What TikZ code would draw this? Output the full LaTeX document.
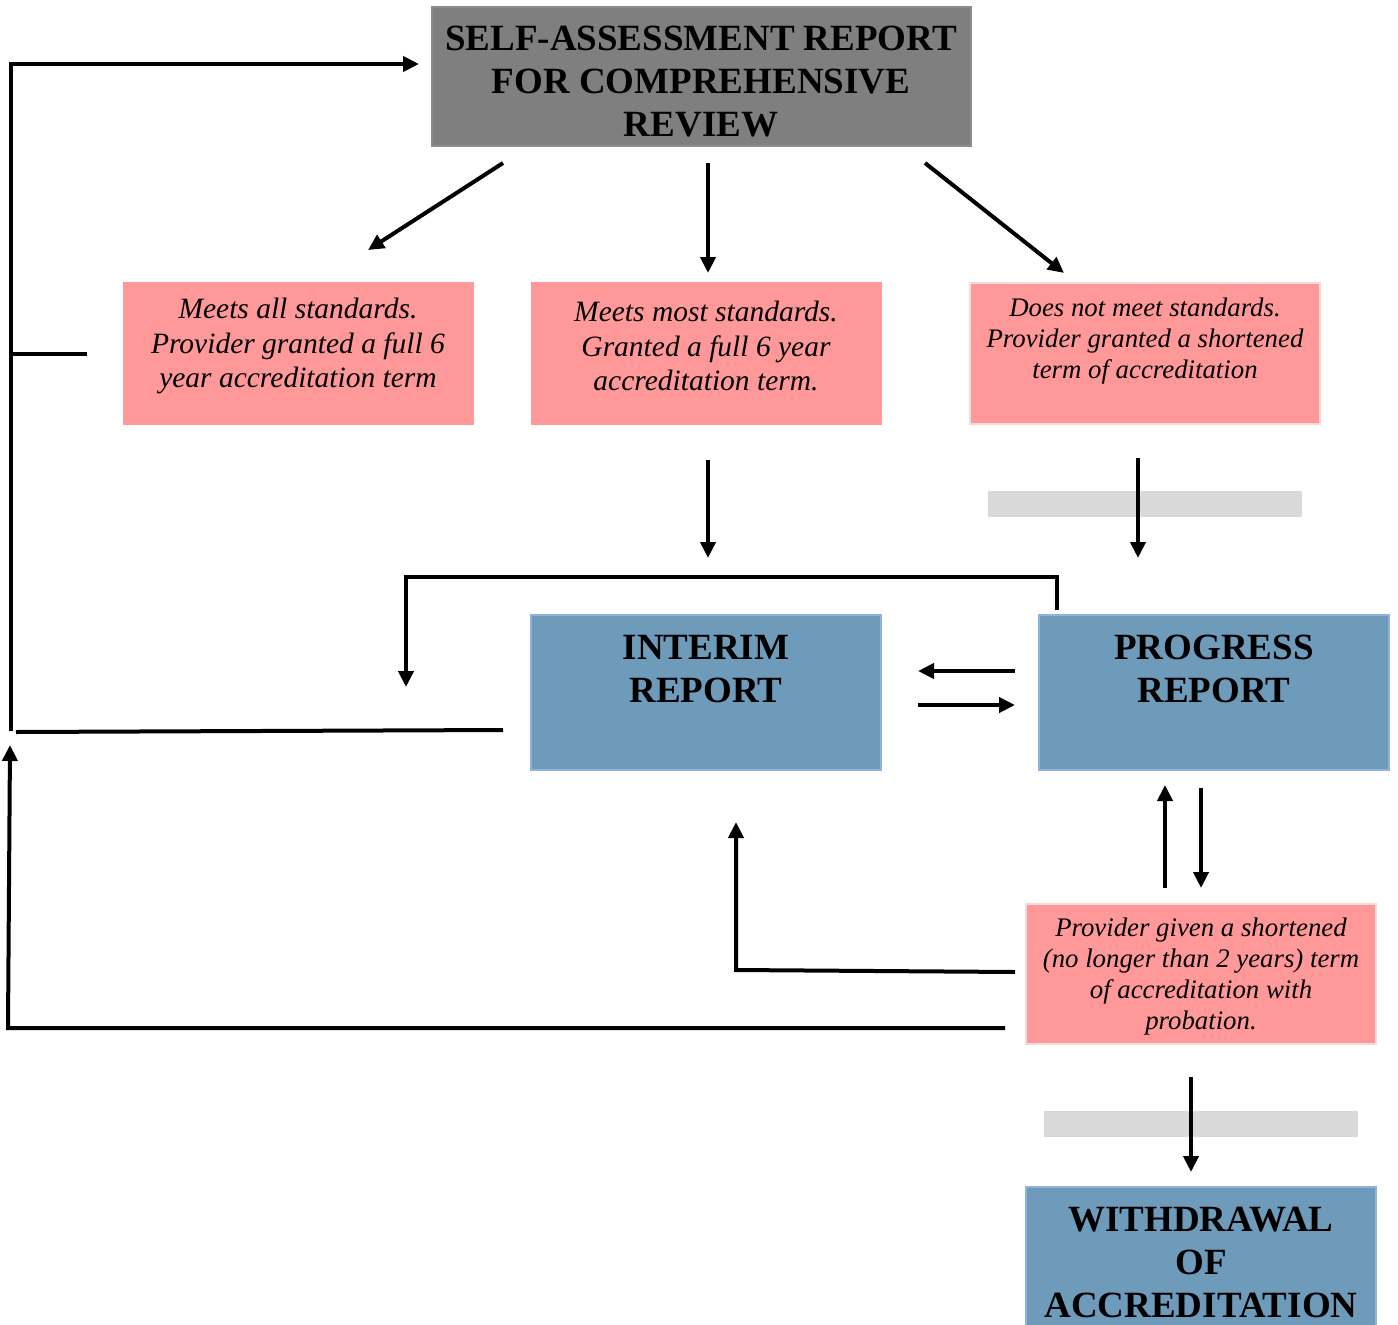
\documentclass[tikz,border=0pt]{standalone}
\usepackage{fontspec}
\setmainfont{Liberation Serif}
\usetikzlibrary{arrows.meta}
\definecolor{hdrgray}{HTML}{7F7F7F}
\definecolor{hdrline}{HTML}{8C8C8C}
\definecolor{pinkfill}{HTML}{FF9999}
\definecolor{pinkline}{HTML}{F2DCDB}
\definecolor{bluefill}{HTML}{6E9BBA}
\definecolor{blueline}{HTML}{8DB3E2}
\definecolor{barfill}{HTML}{D9D9D9}
\begin{document}
\begin{tikzpicture}[x=1pt,y=-1pt,
  boxbase/.style={rectangle, inner sep=0pt, line width=1.2pt},
  graybox/.style={boxbase, fill=hdrgray, draw=hdrline},
  pinkbox/.style={boxbase, fill=pinkfill, draw=pinkline},
  bluebox/.style={boxbase, fill=bluefill, draw=blueline},
  barbox/.style={boxbase, fill=barfill},
  hdrtext/.style={align=center, inner sep=0pt, font=\fontsize{37}{43}\selectfont\bfseries},
  pinktext/.style={align=center, inner sep=0pt, font=\fontsize{29.5}{34.5}\selectfont\itshape},
  pinktextsm/.style={align=center, inner sep=0pt, font=\fontsize{26.8}{31}\selectfont\itshape},
  ln/.style={line width=4pt},
  arr/.style={ln, -{Triangle[length=16pt,width=15pt]}}]
\useasboundingbox (0,0) rectangle (1398,1325);
\fill[white] (0,0) rectangle (1398,1325);

% boxes
\node[graybox, minimum width=539pt, minimum height=139pt] (sar) at (701.5,76.5) {};
\node[pinkbox, draw=none, minimum width=351pt, minimum height=143pt] (all) at (298.5,353.5) {};
\node[pinkbox, draw=none, minimum width=351pt, minimum height=143pt] (most) at (706.5,353.5) {};
\node[pinkbox, minimum width=350pt, minimum height=141pt] (notmeet) at (1145,353.5) {};
\node[barbox, minimum width=314pt, minimum height=26pt] (bar1) at (1145,504) {};
\node[bluebox, minimum width=350pt, minimum height=155pt] (interim) at (706,692.5) {};
\node[bluebox, minimum width=350pt, minimum height=155pt] (progress) at (1214,692.5) {};
\node[pinkbox, minimum width=350pt, minimum height=140pt] (probation) at (1201,974) {};
\node[barbox, minimum width=314pt, minimum height=26pt] (bar2) at (1201,1124) {};
\node[bluebox, minimum width=350pt, minimum height=160pt] (withdraw) at (1201,1267) {};

% texts
\node[hdrtext] (sart) at (701,82) {SELF-ASSESSMENT REPORT\\FOR COMPREHENSIVE\\REVIEW};
\node[pinktext] (allt) at (298,346) {Meets all standards.\\Provider granted a full 6\\year accreditation term};
\node[pinktext] (mostt) at (706,346) {Meets most standards.\\Granted a full 6 year\\accreditation term.};
\node[pinktextsm] (notmeett) at (1145,341) {Does not meet standards.\\Provider granted a shortened\\term of accreditation};
\node[hdrtext] (interimt) at (706,669) {INTERIM\\REPORT};
\node[hdrtext] (progresst) at (1214,669) {PROGRESS\\REPORT};
\node[pinktextsm] (probationt) at (1201,977) {Provider given a shortened\\(no longer than 2 years) term\\of accreditation with\\probation.};
\node[hdrtext] (withdrawt) at (1201,1262) {WITHDRAWAL\\OF\\ACCREDITATION};

% connector end points
\coordinate (d1s) at (503,163); \coordinate (d1e) at (368,250);
\coordinate (d2s) at (708,163); \coordinate (d2e) at (708,273);
\coordinate (d3s) at (925,163); \coordinate (d3e) at (1064,273);
\coordinate (m2s) at (708,460); \coordinate (m2e) at (708,558);
\coordinate (n3s) at (1138,458); \coordinate (n3e) at (1138,558);
\coordinate (lpS) at (1057,610); \coordinate (lpA) at (1057,577); \coordinate (lpB) at (406,577); \coordinate (lpE) at (406,687);
\coordinate (ipL) at (918,671); \coordinate (ipR) at (1015,671);
\coordinate (ipL2) at (918,705); \coordinate (ipR2) at (1015,705);
\coordinate (ppU1) at (1165,888); \coordinate (ppU2) at (1165,785);
\coordinate (ppD1) at (1201,788); \coordinate (ppD2) at (1201,888);
\coordinate (bi1) at (1015,972); \coordinate (bi2) at (736,970); \coordinate (bi3) at (736,822);
\coordinate (wd1) at (1191,1077); \coordinate (wd2) at (1191,1172);
\coordinate (tl1) at (11,731); \coordinate (tl2) at (11,64); \coordinate (tl3) at (419,64);
\coordinate (stub) at (87,354); \coordinate (stubL) at (11,354);
\coordinate (ih1) at (503,730); \coordinate (ih2) at (16,732);
\coordinate (bl1) at (1005,1028); \coordinate (bl2) at (8,1028); \coordinate (bl3) at (10,745);

% connectors
\draw[arr] (d1s) -- (d1e);
\draw[arr] (d2s) -- (d2e);
\draw[arr] (d3s) -- (d3e);
\draw[arr] (m2s) -- (m2e);
\draw[arr] (n3s) -- (n3e);
\draw[arr] (lpS) -- (lpA) -- (lpB) -- (lpE);
\draw[arr] (ipR) -- (ipL);
\draw[arr] (ipL2) -- (ipR2);
\draw[arr] (ppU1) -- (ppU2);
\draw[arr] (ppD1) -- (ppD2);
\draw[arr] (bi1) -- (bi2) -- (bi3);
\draw[arr] (wd1) -- (wd2);
\draw[arr] (tl1) -- (tl2) -- (tl3);
\draw[ln] (stubL) -- (stub);
\draw[ln] (ih1) -- (ih2);
\draw[arr] (bl1) -- (bl2) -- (bl3);
\end{tikzpicture}
\end{document}
